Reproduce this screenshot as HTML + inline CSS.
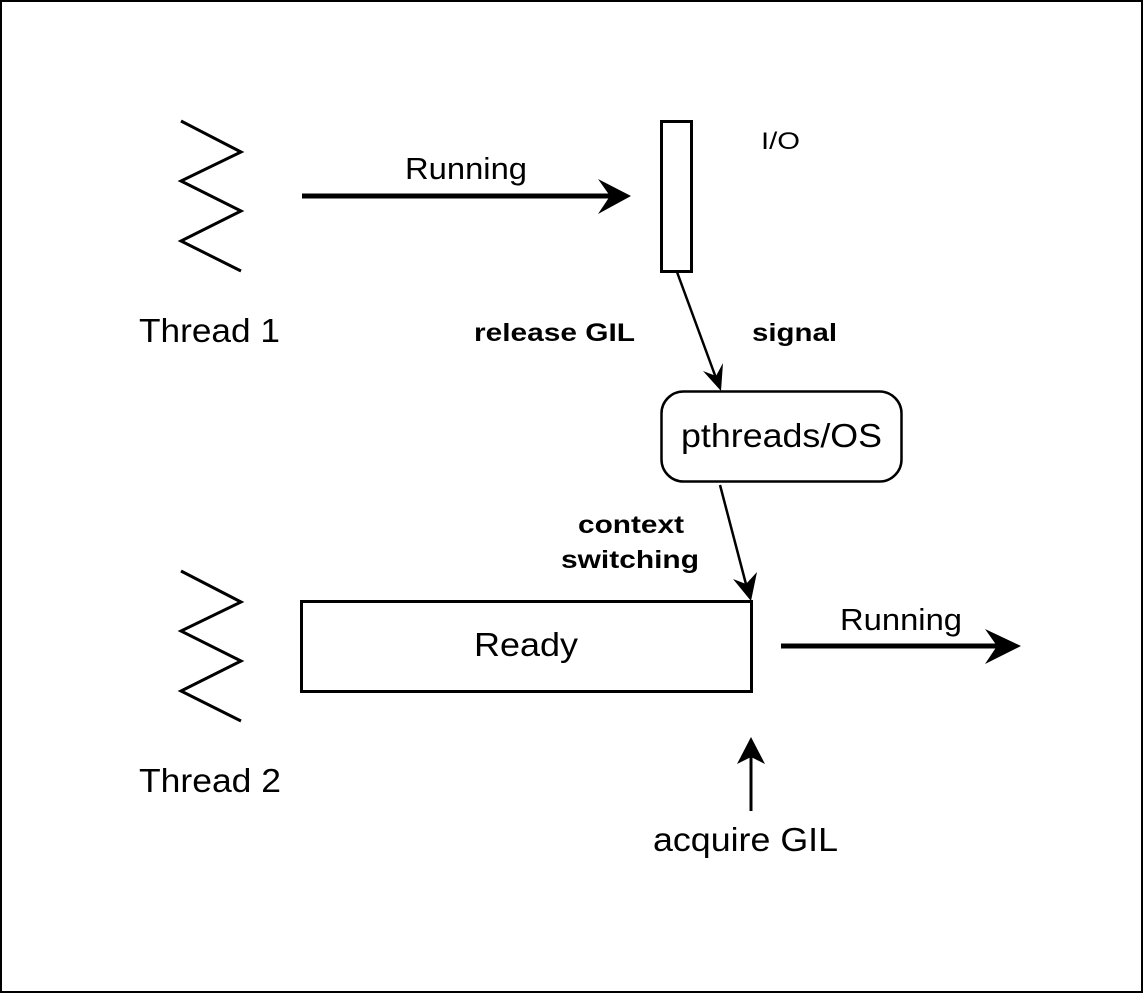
<!DOCTYPE html>
<html><head><style>
html,body{margin:0;padding:0;background:#fff}
svg{display:block}
text{font-family:"Liberation Sans",Arial,sans-serif;fill:#000}
</style></head><body>
<svg width="1143" height="993" viewBox="0 0 1143 993" xmlns="http://www.w3.org/2000/svg">
<rect x="1" y="1" width="1141" height="991" fill="#fff" stroke="#000" stroke-width="2"/>
<polyline points="181,121 241,152 181,181 241,211 181,241 241,271" fill="none" stroke="#000" stroke-width="3"/>
<polyline points="181,571 241,602 181,631 241,661 181,691 241,721" fill="none" stroke="#000" stroke-width="3"/>
<text x="139" y="342" font-size="33" textLength="141" lengthAdjust="spacingAndGlyphs">Thread 1</text>
<text x="139" y="792" font-size="33" textLength="142" lengthAdjust="spacingAndGlyphs">Thread 2</text>
<line x1="302" y1="196" x2="610" y2="196" stroke="#000" stroke-width="5"/>
<polygon points="631,196 598,179 610,196 598,214" fill="#000"/>
<text x="405" y="179" font-size="31" textLength="122" lengthAdjust="spacingAndGlyphs">Running</text>
<rect x="661.5" y="121.5" width="30" height="150" fill="#fff" stroke="#000" stroke-width="3"/>
<text x="761" y="149" font-size="24" textLength="39" lengthAdjust="spacingAndGlyphs">I/O</text>
<text x="474" y="341" font-size="25" font-weight="bold" textLength="161" lengthAdjust="spacingAndGlyphs">release GIL</text>
<text x="752" y="341" font-size="25" font-weight="bold" textLength="85" lengthAdjust="spacingAndGlyphs">signal</text>
<line x1="677" y1="272" x2="716" y2="378" stroke="#000" stroke-width="2.5"/>
<polygon points="721,391 703,371 716,376 723,363" fill="#000"/>
<rect x="661.5" y="391.5" width="240" height="90" rx="22" fill="#fff" stroke="#000" stroke-width="2.5"/>
<text x="681" y="447" font-size="33" textLength="201" lengthAdjust="spacingAndGlyphs">pthreads/OS</text>
<text x="578" y="533" font-size="25" font-weight="bold" textLength="106" lengthAdjust="spacingAndGlyphs">context</text>
<text x="561" y="568" font-size="25" font-weight="bold" textLength="138" lengthAdjust="spacingAndGlyphs">switching</text>
<line x1="720" y1="485" x2="747" y2="588" stroke="#000" stroke-width="2.5"/>
<polygon points="751,601 733,579 746,584 757,572" fill="#000"/>
<rect x="301.5" y="601.5" width="450" height="90" fill="#fff" stroke="#000" stroke-width="3"/>
<text x="474" y="656" font-size="33" textLength="104" lengthAdjust="spacingAndGlyphs">Ready</text>
<line x1="781" y1="646" x2="1000" y2="646" stroke="#000" stroke-width="5"/>
<polygon points="1021,646 985,629 997,646 985,664" fill="#000"/>
<text x="840" y="630" font-size="31" textLength="122" lengthAdjust="spacingAndGlyphs">Running</text>
<line x1="751" y1="811" x2="751" y2="755" stroke="#000" stroke-width="3"/>
<polygon points="751,737 737,764 751,757 765,764" fill="#000"/>
<text x="653" y="851" font-size="33" textLength="185" lengthAdjust="spacingAndGlyphs">acquire GIL</text>
</svg>
</body></html>
